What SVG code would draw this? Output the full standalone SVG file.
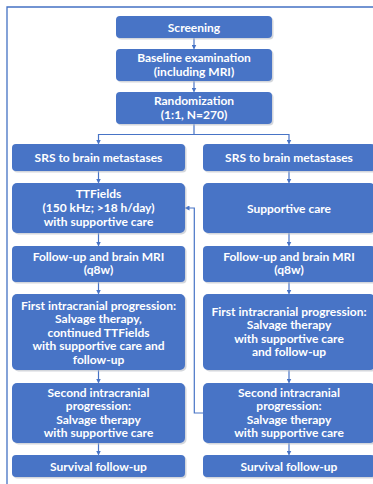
<svg xmlns="http://www.w3.org/2000/svg" width="373" height="484" viewBox="0 0 373 484">
<defs>
<style>
.box{fill:#4874C6;}
.sh{fill:#b8bcc4;opacity:0.6;}
.t{font-family:Lato,"Open Sans","Liberation Sans",sans-serif;font-weight:bold;font-size:12px;fill:#ffffff;text-anchor:middle;}
.c{stroke:#4874C6;stroke-width:1.2;fill:none;}
.b{stroke:#4472C4;stroke-width:1.3;fill:none;}
</style>
<marker id="ah" markerWidth="5" markerHeight="5" refX="4" refY="2.5" orient="auto" markerUnits="userSpaceOnUse">
<path d="M0,0 L5,2.5 L0,5 Z" fill="#4874C6"/>
</marker>
</defs>
<rect width="373" height="484" fill="#ffffff"/>
<path class="b" d="M7,484 L7,7 L373,7"/>

<g id="connectors">
<path class="c" d="M194,38 L194,48.5" marker-end="url(#ah)"/>
<path class="c" d="M194,81 L194,91.5" marker-end="url(#ah)"/>
<path class="c" d="M194,124 L194,134.5 M98.5,134.5 L289,134.5"/>
<path class="c" d="M98.5,134 L98.5,143.5" marker-end="url(#ah)"/>
<path class="c" d="M289,134 L289,143.5" marker-end="url(#ah)"/>
<path class="c" d="M98.5,171 L98.5,182.5" marker-end="url(#ah)"/>
<path class="c" d="M98.5,233 L98.5,245.5" marker-end="url(#ah)"/>
<path class="c" d="M98.5,282 L98.5,293.5" marker-end="url(#ah)"/>
<path class="c" d="M98.5,370 L98.5,382.5" marker-end="url(#ah)"/>
<path class="c" d="M98.5,443 L98.5,454.5" marker-end="url(#ah)"/>
<path class="c" d="M289,171 L289,182.5" marker-end="url(#ah)"/>
<path class="c" d="M289,233 L289,245.5" marker-end="url(#ah)"/>
<path class="c" d="M289,282 L289,293.5" marker-end="url(#ah)"/>
<path class="c" d="M289,370 L289,382.5" marker-end="url(#ah)"/>
<path class="c" d="M289,443 L289,454.5" marker-end="url(#ah)"/>
<path class="c" d="M203,413 L194.3,413 L194.3,208 L185.5,208" marker-end="url(#ah)"/>
</g>

<g id="screening">
<rect class="sh" x="117.5" y="17.5" width="156" height="22" rx="4"/>
<rect class="box" x="116" y="16" width="156" height="22" rx="4"/>
<text class="t" x="194" y="31.5">Screening</text>
</g>
<g id="baseline">
<rect class="sh" x="117.5" y="50.5" width="156" height="32" rx="4"/>
<rect class="box" x="116" y="49" width="156" height="32" rx="4"/>
<text class="t" x="194" y="62">Baseline examination</text>
<text class="t" x="194" y="75.5">(including MRI)</text>
</g>
<g id="randomization">
<rect class="sh" x="117.5" y="93.5" width="156" height="32" rx="4"/>
<rect class="box" x="116" y="92" width="156" height="32" rx="4"/>
<text class="t" x="194" y="105">Randomization</text>
<text class="t" x="194" y="118.5">(1:1, N=270)</text>
</g>

<g id="srs-left">
<rect class="sh" x="13.5" y="145.5" width="173" height="27" rx="4"/>
<rect class="box" x="12" y="144" width="173" height="27" rx="4"/>
<text class="t" x="98.5" y="161.5">SRS to brain metastases</text>
</g>
<g id="srs-right">
<rect class="sh" x="204.5" y="145.5" width="172" height="27" rx="4"/>
<rect class="box" x="203" y="144" width="172" height="27" rx="4"/>
<text class="t" x="289" y="161.5">SRS to brain metastases</text>
</g>

<g id="ttfields">
<rect class="sh" x="13.5" y="184.5" width="173" height="50" rx="5"/>
<rect class="box" x="12" y="183" width="173" height="50" rx="5"/>
<text class="t" x="98.5" y="198">TTFields</text>
<text class="t" x="98.5" y="212">(150 kHz; &gt;18 h/day)</text>
<text class="t" x="98.5" y="225.5">with supportive care</text>
</g>
<g id="supportive">
<rect class="sh" x="204.5" y="184.5" width="172" height="50" rx="5"/>
<rect class="box" x="203" y="183" width="172" height="50" rx="5"/>
<text class="t" x="289" y="212.5">Supportive care</text>
</g>

<g id="followup-left">
<rect class="sh" x="13.5" y="247.5" width="173" height="36" rx="4"/>
<rect class="box" x="12" y="246" width="173" height="36" rx="4"/>
<text class="t" x="98.5" y="260.5">Follow-up and brain MRI</text>
<text class="t" x="98.5" y="274">(q8w)</text>
</g>
<g id="followup-right">
<rect class="sh" x="204.5" y="247.5" width="172" height="36" rx="4"/>
<rect class="box" x="203" y="246" width="172" height="36" rx="4"/>
<text class="t" x="289" y="260.5">Follow-up and brain MRI</text>
<text class="t" x="289" y="274">(q8w)</text>
</g>

<g id="first-left">
<rect class="sh" x="13.5" y="295.5" width="173" height="76" rx="5"/>
<rect class="box" x="12" y="294" width="173" height="76" rx="5"/>
<text class="t" x="98.5" y="309.5">First intracranial progression:</text>
<text class="t" x="98.5" y="323">Salvage therapy,</text>
<text class="t" x="98.5" y="336.5">continued TTFields</text>
<text class="t" x="98.5" y="350">with supportive care and</text>
<text class="t" x="98.5" y="363.5">follow-up</text>
</g>
<g id="first-right">
<rect class="sh" x="204.5" y="295.5" width="172" height="76" rx="5"/>
<rect class="box" x="203" y="294" width="172" height="76" rx="5"/>
<text class="t" x="289" y="315.5">First intracranial progression:</text>
<text class="t" x="289" y="329">Salvage therapy</text>
<text class="t" x="289" y="342.5">with supportive care</text>
<text class="t" x="289" y="356">and follow-up</text>
</g>

<g id="second-left">
<rect class="sh" x="13.5" y="384.5" width="173" height="60" rx="5"/>
<rect class="box" x="12" y="383" width="173" height="60" rx="5"/>
<text class="t" x="98.5" y="396.5">Second intracranial</text>
<text class="t" x="98.5" y="410">progression:</text>
<text class="t" x="98.5" y="423.5">Salvage therapy</text>
<text class="t" x="98.5" y="437">with supportive care</text>
</g>
<g id="second-right">
<rect class="sh" x="204.5" y="384.5" width="172" height="60" rx="5"/>
<rect class="box" x="203" y="383" width="172" height="60" rx="5"/>
<text class="t" x="289" y="396.5">Second intracranial</text>
<text class="t" x="289" y="410">progression:</text>
<text class="t" x="289" y="423.5">Salvage therapy</text>
<text class="t" x="289" y="437">with supportive care</text>
</g>

<g id="survival-left">
<rect class="sh" x="13.5" y="456.5" width="173" height="22" rx="4"/>
<rect class="box" x="12" y="455" width="173" height="22" rx="4"/>
<text class="t" x="98.5" y="470.5">Survival follow-up</text>
</g>
<g id="survival-right">
<rect class="sh" x="204.5" y="456.5" width="172" height="22" rx="4"/>
<rect class="box" x="203" y="455" width="172" height="22" rx="4"/>
<text class="t" x="289" y="470.5">Survival follow-up</text>
</g>
</svg>
